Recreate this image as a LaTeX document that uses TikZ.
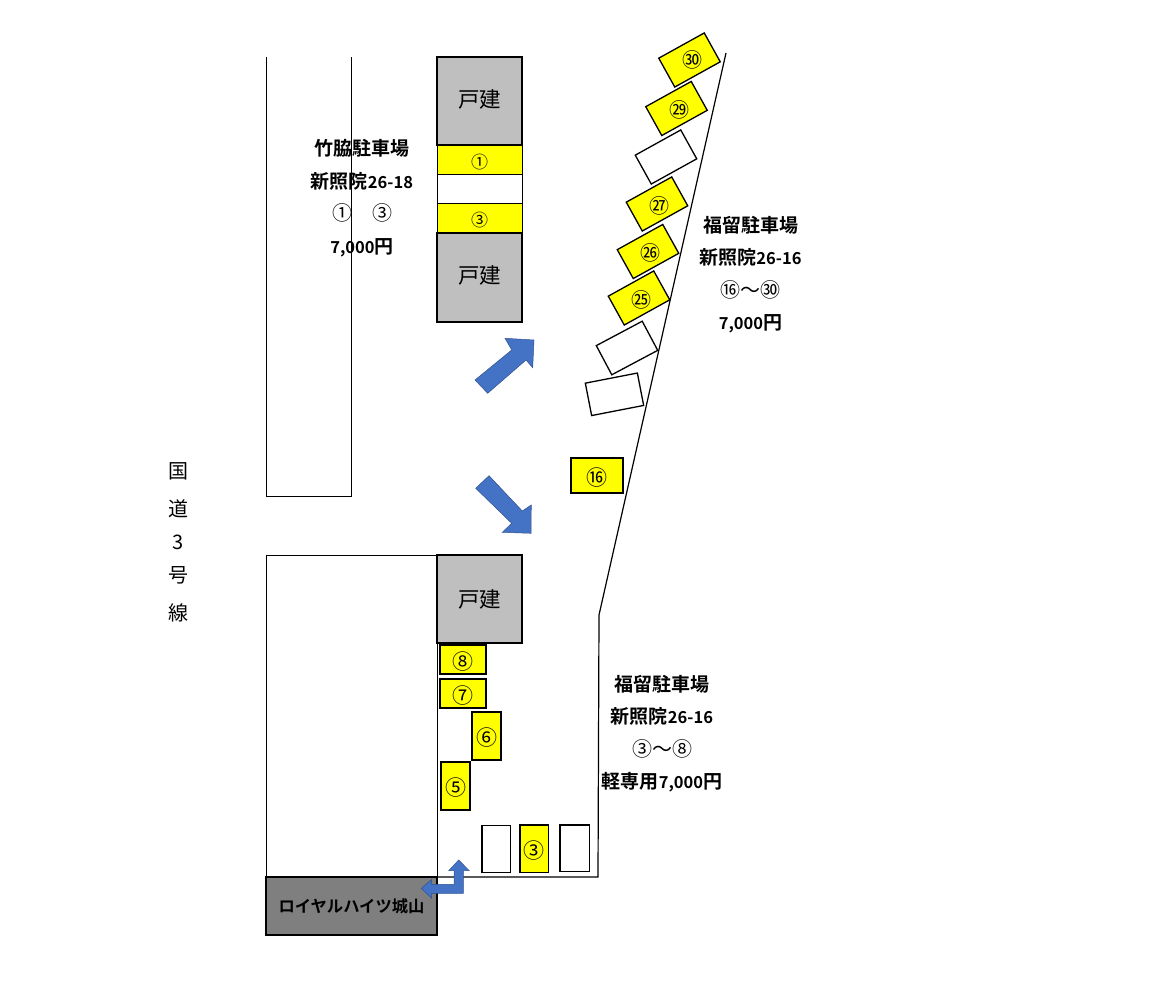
\documentclass[tikz,border=0pt]{standalone}
\usepackage{fontspec}
\setmainfont{Noto Sans CJK JP}[BoldFont={* Bold}]
\definecolor{slotyellow}{RGB}{255,255,0}
\definecolor{housegray}{RGB}{191,191,191}
\definecolor{halldark}{RGB}{127,127,127}
\definecolor{arrowblue}{RGB}{68,114,196}
\definecolor{arrowedge}{RGB}{47,82,143}
\newcommand{\infonum}[1]{{\mdseries\fontsize{20}{32.5}\selectfont #1}}
\newcommand{\infolat}[1]{{\fontsize{16.5}{32.5}\selectfont #1}}
\newcommand{\slotlab}[1]{\raisebox{-2pt}[\height][\depth]{#1}}
\newcommand{\houselab}[1]{\raisebox{2pt}[\height][\depth]{#1}}
\tikzset{
	housebox/.style={draw, line width=1.6pt, fill=housegray, minimum width=85pt, inner sep=0pt, font=\fontsize{21.5}{21.5}\selectfont},
	stripbox/.style={draw, line width=0.9pt, minimum width=85pt, inner sep=0pt, font=\fontsize{17}{17}\selectfont},
	slotbox/.style={draw, line width=1.5pt, fill=slotyellow, inner sep=0pt, font=\fontsize{21}{21}\selectfont},
	slantbox/.style={draw, line width=1.3pt, fill=slotyellow, minimum width=52pt, minimum height=33pt, inner sep=0pt},
	slotnum/.style={inner sep=0pt, xshift=2.5pt, yshift=-1.5pt, font=\fontsize{20}{20}\selectfont},
	infotext/.style={align=center, inner sep=0pt, font=\fontsize{19}{32.5}\selectfont\bfseries},
	bluearrow/.style={fill=arrowblue, draw=arrowedge, line width=0.5pt},
	roadtext/.style={inner sep=0pt, font=\fontsize{20}{20}\selectfont},
}
\begin{document}
\begin{tikzpicture}[x=1pt, y=-1pt]
	\useasboundingbox (0,0) rectangle (1152,1003);

	\draw[line width=0.7pt] (266,57) -- (266,496) -- (351,496) -- (351,57);
	\draw[line width=0.7pt] (266,877) -- (266,555) -- (437,555) -- (437,877);
	\draw[line width=1.2pt] (437,877) -- (598,877) -- (599,615) -- (726,53);

	\node[housebox, minimum height=88pt] (houseA) at (479.5,101) {\houselab{戸建}};
	\node[stripbox, fill=slotyellow, minimum height=29pt] (stripA) at (479.5,160) {\slotlab{①}};
	\node[stripbox, fill=white, minimum height=29pt] (stripB) at (479.5,189) {};
	\node[stripbox, fill=slotyellow, minimum height=30pt] (stripC) at (479.5,218) {\slotlab{③}};
	\node[housebox, minimum height=89pt] (houseB) at (479.5,277.5) {\houselab{戸建}};
	\node[housebox, minimum height=88pt] (houseC) at (479.5,599) {戸建};

	\node[slantbox, rotate=29] (slotT) at (689.5,60) {};
	\node[slotnum, yshift=1.5pt] at (slotT) {㉚};
	\node[slantbox, rotate=29] (slotS) at (676.5,108.5) {};
	\node[slotnum] at (slotS) {㉙};
	\node[slantbox, rotate=29, fill=white] (slotR) at (666,157) {};
	\node[slantbox, rotate=29] (slotQ) at (657,204) {};
	\node[slotnum] at (slotQ) {㉗};
	\node[slantbox, rotate=29] (slotP) at (648,251.5) {};
	\node[slotnum] at (slotP) {㉖};
	\node[slantbox, rotate=29] (slotO) at (639,298) {};
	\node[slotnum] at (slotO) {㉕};
	\node[slantbox, rotate=28, fill=white] (slotN) at (627,348) {};
	\node[slantbox, rotate=11, fill=white, minimum width=53pt] (slotM) at (614.5,394.3) {};
	\node[slotbox, minimum width=52pt, minimum height=35pt] (slotL) at (597,475.5) {\slotlab{⑯}};

	\node[slotbox, minimum width=46pt, minimum height=29pt] (slotH) at (463,659.5) {\slotlab{⑧}};
	\node[slotbox, minimum width=46pt, minimum height=29pt] (slotG) at (463,693.5) {\slotlab{⑦}};
	\node[slotbox, minimum width=29pt, minimum height=48pt] (slotF) at (486.5,736) {\slotlab{⑥}};
	\node[slotbox, minimum width=29pt, minimum height=48pt] (slotE) at (455.5,786) {\slotlab{⑤}};
	\node[slotbox, fill=white, minimum width=28.5pt, minimum height=47pt] (slotD) at (496,849) {};
	\node[slotbox, minimum width=28.5pt, minimum height=47.5pt] (slotC) at (534.3,848.5) {\slotlab{③}};
	\node[slotbox, fill=white, minimum width=29.5pt, minimum height=46.5pt] (slotB) at (574.5,848) {};

	\node[draw, line width=1.6pt, fill=halldark, minimum width=171pt, minimum height=58.5pt, inner sep=0pt, font=\fontsize{16.3}{16.3}\selectfont\bfseries] (royal) at (351.5,906) {ロイヤルハイツ城山};

	\draw[bluearrow] (475,380) -- (511.7,350) -- (505,338.3) -- (534,340) -- (532.7,367.7) -- (526,360) -- (487.7,393.3) -- cycle;
	\draw[bluearrow] (475.7,488.3) -- (489,475.7) -- (522.3,511) -- (531.3,505) -- (531,533.3) -- (502.3,532.3) -- (511.7,523.3) -- cycle;
	\draw[bluearrow] (458.7,860) -- (469.3,870.7) -- (463.3,870.7) -- (463.3,893.3) -- (431.7,893.3) -- (431.7,898.3) -- (421.3,888.3) -- (431.7,879.3) -- (431.7,884.3) -- (454,884.3) -- (454,870.7) -- (448.7,870.7) -- cycle;

	\node[infotext] (takewaki) at (362,198) {竹脇駐車場\\新照院\infolat{26-18}\\\infonum{①　③}\\\infolat{7,000}円};
	\node[infotext] (fukuA) at (750.5,274.5) {福留駐車場\\新照院\infolat{26-16}\\\infonum{⑯～㉚}\\\infolat{7,000}円};
	\node[infotext] (fukuB) at (662,733.5) {福留駐車場\\新照院\infolat{26-16}\\\infonum{③～⑧}\\軽専用\infolat{7,000}円};

	\node[roadtext] (kokuA) at (178,471) {国};
	\node[roadtext] (kokuB) at (178,509) {道};
	\node[roadtext] (kokuC) at (178,542) {3};
	\node[roadtext] (kokuD) at (178,575) {号};
	\node[roadtext] (kokuE) at (178,613) {線};
\end{tikzpicture}
\end{document}
